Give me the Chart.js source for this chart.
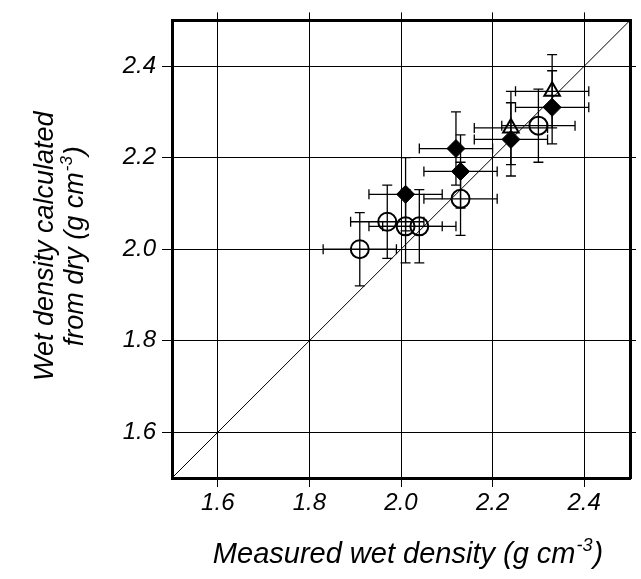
<!DOCTYPE html>
<html>
<head>
<meta charset="utf-8">
<script src="https://cdn.jsdelivr.net/npm/chart.js@4.4.0/dist/chart.umd.min.js"></script>
<style>
  html, body { margin: 0; padding: 0; background: #fff; }
  #wrap { width: 641px; height: 579px; }
</style>
</head>
<body>
<div id="wrap"><canvas id="densityChart" width="641" height="579"></canvas></div>
<script>
// axis range and tick labels
var axisMin = 1.5, axisMax = 2.5;
var tickValues = [1.6, 1.8, 2.0, 2.2, 2.4];

// open circles
var circleX = [1.91, 1.97, 2.01, 2.04, 2.13, 2.30];
var circleY = [2.00, 2.06, 2.05, 2.05, 2.11, 2.27];
var circleErr = [0.08, 0.08, 0.08, 0.08, 0.08, 0.08];

// filled diamonds
var diamondX = [2.01, 2.12, 2.13, 2.24, 2.33];
var diamondY = [2.12, 2.22, 2.17, 2.24, 2.31];
var diamondErr = [0.08, 0.08, 0.08, 0.08, 0.08];

// open triangles
var triangleX = [2.24, 2.33];
var triangleY = [2.265, 2.345];
var triangleErr = [0.08, 0.08];

// 1:1 line
var lineX = [1.5, 2.5];
var lineY = [1.5, 2.5];

var FONT = '"Liberation Sans", Arial, Helvetica, sans-serif';

function points(xs, ys, errs) {
    return xs.map(function (x, i) {
        return { x: x, y: ys[i], e: errs ? errs[i] : 0 };
    });
}

// error bars with caps, drawn through the chart scales
var errorBars = {
    id: 'errorBars',
    beforeDatasetsDraw: function (chart) {
        var ctx = chart.ctx, sx = chart.scales.x, sy = chart.scales.y;
        var cap = 5;
        ctx.save();
        ctx.strokeStyle = '#000';
        ctx.lineWidth = 1.3;
        chart.data.datasets.forEach(function (ds) {
            if (!ds.errorBars) return;
            ds.data.forEach(function (p) {
                var px = sx.getPixelForValue(p.x), py = sy.getPixelForValue(p.y);
                var x1 = sx.getPixelForValue(p.x - p.e), x2 = sx.getPixelForValue(p.x + p.e);
                var y1 = sy.getPixelForValue(p.y - p.e), y2 = sy.getPixelForValue(p.y + p.e);
                ctx.beginPath();
                ctx.moveTo(x1, py); ctx.lineTo(x2, py);
                ctx.moveTo(x1, py - cap); ctx.lineTo(x1, py + cap);
                ctx.moveTo(x2, py - cap); ctx.lineTo(x2, py + cap);
                ctx.moveTo(px, y1); ctx.lineTo(px, y2);
                ctx.moveTo(px - cap, y1); ctx.lineTo(px + cap, y1);
                ctx.moveTo(px - cap, y2); ctx.lineTo(px + cap, y2);
                ctx.stroke();
            });
        });
        ctx.restore();
    }
};

function drawSupText(ctx, head, sup, tail, cx, y, size) {
    var big = 'italic ' + size + 'px ' + FONT;
    var small = 'italic ' + Math.round(size * 0.62) + 'px ' + FONT;
    ctx.font = big;
    var w1 = ctx.measureText(head).width, w3 = ctx.measureText(tail).width;
    ctx.font = small;
    var w2 = ctx.measureText(sup).width;
    var x = cx - (w1 + w2 + w3 + 2) / 2;
    ctx.textAlign = 'left';
    ctx.textBaseline = 'alphabetic';
    ctx.font = big;
    ctx.fillText(head, x, y);
    ctx.font = small;
    ctx.fillText(sup, x + w1 + 1, y - size * 0.4);
    ctx.font = big;
    ctx.fillText(tail, x + w1 + w2 + 2, y);
}

var axisTitles = {
    id: 'axisTitles',
    afterDraw: function (chart) {
        var ctx = chart.ctx, area = chart.chartArea;
        ctx.save();
        ctx.fillStyle = '#000';
        drawSupText(ctx, 'Measured wet density (g cm', '-3', ')', (area.left + area.right) / 2 + 7, 563, 29);

        ctx.translate(53, (area.top + area.bottom) / 2 - 3);
        ctx.rotate(-Math.PI / 2);
        ctx.font = 'italic 27px ' + FONT;
        ctx.textAlign = 'center';
        ctx.textBaseline = 'alphabetic';
        ctx.fillText('Wet density calculated', 0, 0);
        drawSupText(ctx, 'from dry (g cm', '-3', ')', 0, 30, 27);
        ctx.restore();
    }
};

function fixTicks(scale) {
    scale.ticks = tickValues.map(function (v) { return { value: v }; });
}

var tickFont = { family: FONT, size: 24, style: 'italic' };

var ctx = document.getElementById('densityChart');
var myChart = new Chart(ctx, {
    type: 'scatter',
    data: {
        datasets: [{
            label: 'Circles',
            data: points(circleX, circleY, circleErr),
            errorBars: true,
            pointStyle: 'circle',
            pointRadius: 9,
            pointBackgroundColor: 'rgba(0,0,0,0)',
            pointBorderColor: '#000',
            pointBorderWidth: 2
        }, {
            label: 'Diamonds',
            data: points(diamondX, diamondY, diamondErr),
            errorBars: true,
            pointStyle: 'rectRot',
            pointRadius: 9,
            pointBackgroundColor: '#000',
            pointBorderColor: '#000',
            pointBorderWidth: 1
        }, {
            label: 'Triangles',
            data: points(triangleX, triangleY, triangleErr),
            errorBars: true,
            pointStyle: 'triangle',
            pointRadius: 9,
            pointBackgroundColor: 'rgba(0,0,0,0)',
            pointBorderColor: '#000',
            pointBorderWidth: 2
        }, {
            label: '1:1',
            type: 'line',
            data: points(lineX, lineY),
            borderColor: '#000',
            borderWidth: 1,
            pointRadius: 0,
            fill: false
        }]
    },
    options: {
        responsive: false,
        animation: false,
        events: [],
        layout: { padding: { top: 18, right: 7, left: 0, bottom: 0 } },
        plugins: { legend: { display: false }, tooltip: { enabled: false } },
        scales: {
            x: {
                type: 'linear', position: 'bottom', min: axisMin, max: axisMax,
                afterBuildTicks: fixTicks,
                afterFit: function (s) { s.height = 101; },
                grid: { color: '#000', lineWidth: 1, tickLength: 9, drawTicks: true },
                border: { display: true, color: '#000', width: 3 },
                ticks: { color: '#000', font: tickFont, padding: 2, maxRotation: 0,
                    callback: function (v) { return v.toFixed(1); } }
            },
            y: {
                type: 'linear', position: 'left', min: axisMin, max: axisMax,
                afterBuildTicks: fixTicks,
                afterFit: function (s) { s.width = 172; },
                grid: { color: '#000', lineWidth: 1, tickLength: 10, drawTicks: true },
                border: { display: true, color: '#000', width: 3 },
                ticks: { color: '#000', font: tickFont, padding: 6,
                    callback: function (v) { return v.toFixed(1); } }
            },
            x2: {
                type: 'linear', position: 'top', min: axisMin, max: axisMax,
                afterBuildTicks: fixTicks,
                afterFit: function (s) { s.height = 0; },
                grid: { color: '#000', lineWidth: 1, tickLength: 8, drawOnChartArea: false },
                border: { display: true, color: '#000', width: 3 },
                ticks: { display: false }
            },
            y2: {
                type: 'linear', position: 'right', min: axisMin, max: axisMax,
                afterBuildTicks: fixTicks,
                afterFit: function (s) { s.width = 0; },
                grid: { color: '#000', lineWidth: 1, tickLength: 6, drawOnChartArea: false },
                border: { display: true, color: '#000', width: 3 },
                ticks: { display: false }
            }
        }
    },
    plugins: [errorBars, axisTitles]
});
</script>
</body>
</html>
